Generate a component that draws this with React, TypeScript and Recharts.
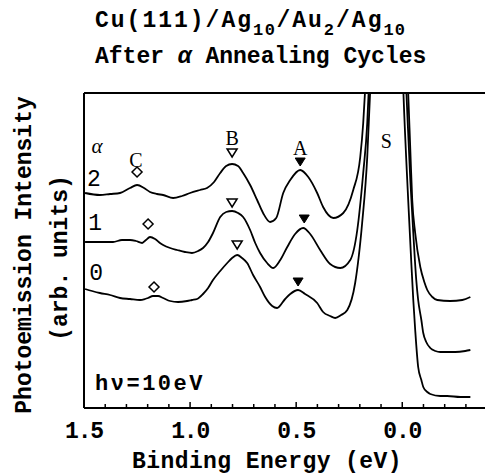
import React from 'react';
import { ComposedChart, Line, XAxis, YAxis, Scatter, ReferenceLine } from 'recharts';

const MONO = '"Liberation Mono", "DejaVu Sans Mono", monospace';
const SERIF = '"Liberation Serif", serif';

// [binding energy (eV), intensity (arb. units)]
const cycles2: [number, number][] = [
  [1.495, 215], [1.425, 213], [1.377, 214], [1.33, 215], [1.283, 220], [1.25, 223], [1.217, 220],
  [1.189, 216], [1.156, 214], [1.127, 213], [1.08, 210], [1.038, 212], [1.0, 215], [0.953, 218],
  [0.92, 220], [0.887, 226], [0.858, 235], [0.83, 242], [0.802, 244], [0.774, 242], [0.75, 235],
  [0.717, 223], [0.684, 208], [0.656, 195], [0.623, 186], [0.594, 190], [0.561, 215], [0.528, 228],
  [0.481, 238], [0.443, 231], [0.401, 215], [0.373, 201], [0.325, 190], [0.278, 195], [0.231, 218],
  [0.198, 251], [0.184, 285], [0.175, 318], [0.127, 560], [0.075, 700], [0.024, 560], [-0.014, 380],
  [-0.028, 315], [-0.038, 258], [-0.047, 208], [-0.061, 175], [-0.085, 141], [-0.104, 126],
  [-0.118, 118], [-0.142, 111], [-0.165, 108], [-0.226, 107], [-0.283, 108], [-0.321, 111],
];

const cycles1: [number, number][] = [
  [1.495, 166], [1.425, 166], [1.363, 166], [1.321, 168], [1.283, 168], [1.255, 167], [1.226, 165],
  [1.208, 168], [1.189, 171], [1.165, 169], [1.142, 165], [1.127, 163], [1.094, 160], [1.061, 158],
  [1.024, 156], [0.991, 155], [0.962, 157], [0.939, 160], [0.915, 166], [0.892, 175], [0.858, 191],
  [0.83, 196], [0.802, 197], [0.774, 195], [0.75, 191], [0.717, 178], [0.693, 165], [0.67, 155],
  [0.637, 145], [0.608, 140], [0.575, 148], [0.542, 161], [0.505, 174], [0.467, 180], [0.434, 174],
  [0.387, 158], [0.34, 144], [0.292, 140], [0.245, 148], [0.212, 178], [0.184, 235], [0.165, 285],
  [0.158, 318], [0.118, 560], [0.071, 700], [0.024, 560], [-0.005, 380], [-0.019, 318],
  [-0.038, 228], [-0.052, 175], [-0.066, 128], [-0.075, 108], [-0.09, 88], [-0.099, 75],
  [-0.113, 66], [-0.132, 60], [-0.156, 57], [-0.179, 56], [-0.25, 56], [-0.297, 57], [-0.321, 58],
];

const cycles0: [number, number][] = [
  [1.495, 119], [1.462, 117], [1.425, 115], [1.377, 113], [1.33, 110], [1.283, 109], [1.236, 108],
  [1.212, 109], [1.198, 110], [1.175, 112], [1.151, 112], [1.127, 110], [1.094, 107], [1.057, 106],
  [1.014, 107], [0.991, 108], [0.967, 109], [0.939, 114], [0.915, 120], [0.892, 128], [0.858, 137],
  [0.825, 145], [0.802, 150], [0.778, 153], [0.755, 150], [0.731, 145], [0.703, 133], [0.67, 121],
  [0.646, 111], [0.613, 102], [0.59, 100], [0.552, 109], [0.528, 114], [0.491, 118], [0.458, 114],
  [0.401, 105], [0.373, 96], [0.34, 92], [0.316, 90], [0.288, 93], [0.259, 98], [0.222, 125],
  [0.189, 185], [0.165, 251], [0.151, 318], [0.113, 560], [0.066, 700], [0.028, 560],
  [-0.005, 318], [-0.028, 208], [-0.042, 148], [-0.052, 108], [-0.061, 78], [-0.075, 41],
  [-0.09, 28], [-0.099, 21], [-0.118, 16], [-0.132, 14], [-0.179, 12], [-0.212, 12],
  [-0.274, 11], [-0.321, 11],
];

// peak markers, one per spectrum (a = 2, 1, 0)
const peakC: [number, number][] = [[1.25, 236], [1.198, 184], [1.17, 121]];
const peakB: [number, number][] = [[0.802, 255], [0.802, 205], [0.778, 163]];
const peakA: [number, number][] = [[0.481, 246], [0.462, 189], [0.491, 126]];

const peakNames = ['C', 'B', 'A', 'S'];
const peakNamePos: [number, number][] = [[1.255, 241], [0.802, 263], [0.481, 253], [0.075, 260]];
const cycleNames = ['2', '1', '0'];
const cycleNamePos: [number, number][] = [[1.453, 222], [1.448, 178], [1.443, 128]];

const xTicks = [1.5, 1.4, 1.3, 1.2, 1.1, 1.0, 0.9, 0.8, 0.7, 0.6, 0.5, 0.4, 0.3, 0.2, 0.1, 0.0, -0.1, -0.2, -0.3];

const toRows = (arr: [number, number][]) => arr.map(([be, v]) => ({ be, v }));

const EnergyTick = (props: any) => {
  const { x, y, payload } = props;
  const val = payload.value;
  const major = Math.abs(val * 2 - Math.round(val * 2)) < 1e-6;
  return (
    <g>
      {val !== 1.5 && (
        <line x1={x} x2={x} y1={y} y2={y - (major ? 6 : 4)} stroke="#000" strokeWidth={1.5} />
      )}
      {major && (
        <text x={x} y={y + 30} textAnchor="middle" fontFamily={MONO} fontWeight="bold" fontSize={23} letterSpacing={-1.2} fill="#000">
          {val.toFixed(1)}
        </text>
      )}
    </g>
  );
};

const Diamond = (p: any) => (
  <path d={`M${p.cx},${p.cy - 5}L${p.cx + 5},${p.cy}L${p.cx},${p.cy + 5}L${p.cx - 5},${p.cy}Z`} fill="#fff" stroke="#000" strokeWidth={1.5} />
);
const OpenTri = (p: any) => (
  <path d={`M${p.cx - 5},${p.cy - 4}L${p.cx + 5},${p.cy - 4}L${p.cx},${p.cy + 4}Z`} fill="#fff" stroke="#000" strokeWidth={1.5} />
);
const FillTri = (p: any) => (
  <path d={`M${p.cx - 5},${p.cy - 4}L${p.cx + 5},${p.cy - 4}L${p.cx},${p.cy + 4}Z`} fill="#000" stroke="#000" strokeWidth={1} />
);
const NameText = (font: string, size: number, weight: string) => (p: any) => (
  <text x={p.cx} y={p.cy} textAnchor="middle" fontFamily={font} fontSize={size} fontWeight={weight} fill="#000">{p.payload.t}</text>
);

export default function App() {
  const names = peakNamePos.map(([be, v], i) => ({ be, v, t: peakNames[i] }));
  const cycles = cycleNamePos.map(([be, v], i) => ({ be, v, t: cycleNames[i] }));
  return (
    <div style={{ position: 'absolute', left: 0, top: 0, width: 485, height: 475, background: '#fff' }}>
      <ComposedChart width={485} height={475} margin={{ top: 93, right: 0, bottom: 37, left: 74 }}>
        <XAxis
          type="number" dataKey="be" domain={[-0.39, 1.5]} reversed allowDataOverflow
          ticks={xTicks} interval={0} height={30} tickSize={0} tickMargin={0} tickLine={false}
          tick={<EnergyTick />} axisLine={{ stroke: '#000', strokeWidth: 2 }}
        />
        <YAxis
          type="number" dataKey="v" domain={[0, 315]} allowDataOverflow width={10}
          tick={false} tickLine={false} axisLine={{ stroke: '#000', strokeWidth: 2 }}
        />
        <ReferenceLine y={315} stroke="#000" strokeWidth={2} />
        <Line data={toRows(cycles2)} dataKey="v" type="monotone" stroke="#000" strokeWidth={1.8} dot={false} isAnimationActive={false} />
        <Line data={toRows(cycles1)} dataKey="v" type="monotone" stroke="#000" strokeWidth={1.8} dot={false} isAnimationActive={false} />
        <Line data={toRows(cycles0)} dataKey="v" type="monotone" stroke="#000" strokeWidth={1.8} dot={false} isAnimationActive={false} />
        <Scatter data={toRows(peakC)} dataKey="v" shape={Diamond} isAnimationActive={false} />
        <Scatter data={toRows(peakB)} dataKey="v" shape={OpenTri} isAnimationActive={false} />
        <Scatter data={toRows(peakA)} dataKey="v" shape={FillTri} isAnimationActive={false} />
        <Scatter data={names} dataKey="v" shape={NameText(SERIF, 20, 'normal')} isAnimationActive={false} />
        <Scatter data={cycles} dataKey="v" shape={NameText(MONO, 23, 'normal')} isAnimationActive={false} />
        <Scatter data={[{ be: 1.439, v: 255, t: 'α' }]} dataKey="v" shape={(p: any) => (
          <text x={p.cx} y={p.cy} textAnchor="middle" fontFamily={SERIF} fontStyle="italic" fontSize={21} fill="#000">{p.payload.t}</text>
        )} isAnimationActive={false} />
        <Scatter data={[{ be: 1.448, v: 18, t: 'hν=10eV' }]} dataKey="v" shape={(p: any) => (
          <text x={p.cx} y={p.cy} fontFamily={MONO} fontWeight="bold" fontSize={22} letterSpacing={2.5} fill="#000">{p.payload.t}</text>
        )} isAnimationActive={false} />
      </ComposedChart>
      <svg width={485} height={475} style={{ position: 'absolute', left: 0, top: 0, pointerEvents: 'none' }}>
        <g fontFamily={MONO} fontWeight="bold" fill="#000">
          <text x={95} y={27} fontSize={23} letterSpacing={2}>
            Cu(111)/Ag<tspan fontSize={17} dy={8} letterSpacing={1.5}>10</tspan>
            <tspan dy={-8}>/Au</tspan><tspan fontSize={17} dy={8}>2</tspan>
            <tspan dy={-8}>/Ag</tspan><tspan fontSize={17} dy={8} letterSpacing={1}>10</tspan>
          </text>
          <text x={95} y={63} fontSize={23} letterSpacing={0}>
            After <tspan fontStyle="italic">α</tspan> Annealing Cycles
          </text>
          <text x={31} y={255} fontSize={23} textAnchor="middle" transform="rotate(-90 31 255)">
            Photoemission Intensity
          </text>
          <text x={67} y={258} fontSize={23} textAnchor="middle" transform="rotate(-90 67 258)">
            (arb. units)
          </text>
          <text x={267} y={468} fontSize={23} letterSpacing={0.4} textAnchor="middle">
            Binding Energy (eV)
          </text>
        </g>
      </svg>
    </div>
  );
}
